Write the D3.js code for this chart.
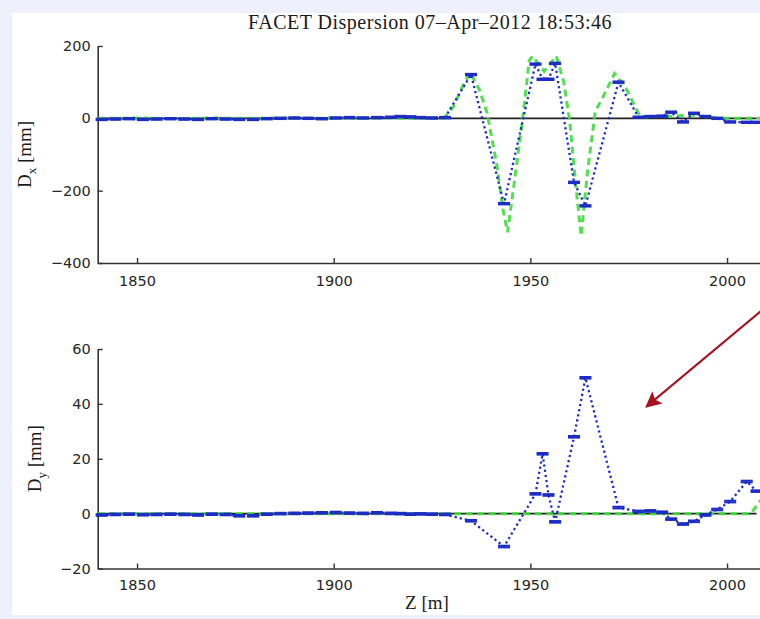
<!DOCTYPE html>
<html>
<head>
<meta charset="utf-8">
<script src="https://cdn.jsdelivr.net/npm/d3@7/dist/d3.min.js"></script>
<style>
  html, body { margin: 0; padding: 0; background: #eef0fb; }
  svg { display: block; }
</style>
</head>
<body>
<svg id="chart" width="760" height="619"></svg>
<script>
// ---- data ---------------------------------------------------------------
const titleText = "FACET Dispersion 07\u2013Apr\u20132012 18:53:46";
const zTicks = [1850, 1900, 1950, 2000];
const dxTicks = [-400, -200, 0, 200];
const dyTicks = [-20, 0, 20, 40, 60];

// BPM positions [m] and measured dispersion [mm]
const bpmZ = [1841, 1844.5, 1848, 1851.5, 1855, 1858.5, 1862, 1865.5, 1869, 1872.5,
  1876, 1879.5, 1883, 1886.5, 1890, 1893.5, 1897, 1900.5, 1904, 1907.5,
  1911, 1914.5, 1917, 1919.5, 1922, 1925, 1928.3, 1934.9, 1943.3, 1951.3,
  1953.1, 1954.6, 1956.3, 1961.1, 1964.0, 1972.4, 1977.5, 1980.5, 1983.5, 1985.8,
  1988.8, 1991.6, 1994.5, 1997.5, 2000.8, 2005.0, 2007.5, 2011];
const measDx = [-3, -2, -1, -3, -2, -1, -2, -3, -1, -2,
  -3, -3, -1, 0, 1, 0, -1, 1, 2, 1,
  2, 3, 5, 4, 2, 1, 2, 121, -236, 150,
  108, 108, 152, -177, -242, 100, 3, 5, 6, 17,
  -10, 14, 5, 0, -10, -11, -11, -11];
const measDy = [-0.5, -0.3, -0.2, -0.4, -0.3, -0.2, -0.3, -0.5, -0.2, -0.3,
  -0.8, -0.8, -0.2, 0, 0.1, 0.2, 0.3, 0.4, 0.2, 0.1,
  0.3, 0.1, 0, -0.2, -0.1, -0.2, -0.3, -2.6, -12, 7.2,
  21.8, 6.8, -3, 28, 49.5, 2.2, 0.8, 1, 0.5, -2,
  -3.8, -2.8, -0.5, 1.5, 4.4, 11.7, 8.2, 8];
const errDx = 2;    // BPM error bar half-height [mm]
const errDy = 0.3;

// model dispersion [mm]
const modelZ = [1840, 1845, 1850, 1855, 1860, 1865, 1870, 1875, 1880, 1885,
  1890, 1895, 1900, 1905, 1910, 1915, 1920, 1925, 1928, 1930.5,
  1933, 1934.7, 1937, 1939, 1941.5, 1943, 1944.2, 1946, 1948, 1949.7,
  1950.6, 1953.5, 1956.6, 1958.5, 1960, 1961.5, 1962.9, 1964.5, 1966.5, 1968.5,
  1971.4, 1974, 1976.5, 1978, 1982, 1986, 1990, 1994, 1998, 2002,
  2006, 2008.5, 2012];
const modelDx = [0, 0, 1, 0, -1, 0, 1, 0, 0, 1,
  0, 0, 1, 0, 1, 1, 0, 0, 0, 33,
  94, 127, 80, 15, -130, -250, -315, -170, -5, 160,
  172, 130, 172, 100, -8, -180, -325, -150, 19, 60,
  124, 90, 35, 3, 5, 5, 10, 5, 0, 0,
  0, 0, 0];
const modelDy = [0, 0, 0, 0, 0, 0, 0, 0, 0, 0,
  0, 0, 0, 0, 0, 0, 0, 0, 0, 0,
  0, 0, 0, 0, 0, 0, 0, 0, 0, 0,
  0, 0, 0, 0, 0, 0, 0, 0, 0, 0,
  0, 0, 0, 0, 0, 0, 0, 0, 0, 0,
  0, 4.7, 8];
const zeroLineZ = [1840, 2007.5];

// annotation arrow in Dy-panel data coordinates: [tail, head]
const arrowPts = [[2009.6, 75], [1979.5, 39]];

// ---- drawing ------------------------------------------------------------
const svg = d3.select("#chart");
svg.append("rect").attr("x", 12).attr("y", 13).attr("width", 748).attr("height", 602)
  .attr("fill", "#ffffff");

const x = d3.scaleLinear().domain([1840, 2020]).range([97.7, 805.7]);

const axisColor = "#333333";
const blue = "#1c2cc4";
const green = "#3fdc3f";
const serif = "'Liberation Serif', 'Times New Roman', serif";

function panel(cfg) {
  const y = d3.scaleLinear().domain(cfg.domain).range(cfg.range);
  const g = svg.append("g");

  // axes (left + bottom, ticks pointing inward)
  const ax = g.append("g").attr("transform", `translate(0,${cfg.range[0]})`)
    .call(d3.axisBottom(x).tickValues(zTicks).tickFormat(d3.format("d"))
      .tickSizeInner(-5).tickSizeOuter(0).tickPadding(cfg.xPad));
  const ay = g.append("g").attr("transform", `translate(${x.range()[0]},0)`)
    .call(d3.axisLeft(y).tickValues(cfg.ticks).tickFormat(d => d < 0 ? "\u2212" + Math.abs(d) : d)
      .tickSizeInner(-5).tickSizeOuter(0).tickPadding(7));
  [ax, ay].forEach(a => {
    a.selectAll("path.domain").attr("stroke", axisColor).attr("stroke-width", 1.6);
    a.selectAll(".tick line").attr("stroke", axisColor).attr("stroke-width", 1.4);
    a.selectAll("text").attr("fill", "#262626")
      .style("font-family", "'DejaVu Sans', sans-serif").style("font-size", "14.5px");
  });

  // zero line
  g.append("path")
    .attr("d", d3.line().x(d => x(d)).y(() => y(0))(zeroLineZ))
    .attr("stroke", "#222").attr("stroke-width", 1.6).attr("fill", "none");

  // model (green dashed)
  const model = modelZ.map((z, i) => [z, cfg.model[i]]);
  g.append("path")
    .attr("d", d3.line().x(d => x(d[0])).y(d => y(d[1]))(model))
    .attr("fill", "none").attr("stroke", green).attr("stroke-width", 3)
    .attr("stroke-dasharray", "7 4.5").attr("opacity", 0.9);

  // measurement (blue dotted with error bars)
  const meas = bpmZ.map((z, i) => [z, cfg.meas[i]]);
  g.append("path")
    .attr("d", d3.line().x(d => x(d[0])).y(d => y(d[1]))(meas))
    .attr("fill", "none").attr("stroke", blue).attr("stroke-width", 2.3)
    .attr("stroke-dasharray", "2.2 3");
  const eb = g.append("g").attr("stroke", blue).attr("fill", "none");
  meas.forEach(d => {
    const cx = x(d[0]);
    const yl = y(d[1] - cfg.err), yh = y(d[1] + cfg.err);
    eb.append("line").attr("x1", cx).attr("x2", cx).attr("y1", yl - 2).attr("y2", yh + 2)
      .attr("stroke-width", 1.5);
    [yl, yh].forEach(yy => eb.append("line")
      .attr("x1", cx - 6).attr("x2", cx + 6).attr("y1", yy).attr("y2", yy)
      .attr("stroke-width", 2));
  });

  // y label with subscript
  const lab = svg.append("text")
    .attr("transform", `translate(${cfg.labelX},${(cfg.range[0] + cfg.range[1]) / 2}) rotate(-90)`)
    .attr("text-anchor", "middle")
    .style("font-family", serif)
    .style("font-size", "19px").attr("fill", "#1a1a1a");
  lab.append("tspan").text("D");
  lab.append("tspan").attr("dy", 5).style("font-size", "13px").text(cfg.sub);
  lab.append("tspan").attr("dy", -5).text(" [mm]");
  return y;
}

panel({domain: [-400, 200], range: [263, 46], ticks: dxTicks, meas: measDx,
  model: modelDx, err: errDx, sub: "x", labelX: 31, xPad: 13});
const yDy = panel({domain: [-20, 60], range: [568.5, 349], ticks: dyTicks, meas: measDy,
  model: modelDy, err: errDy, sub: "y", labelX: 41, xPad: 11});

// title and x label
svg.append("text").attr("x", 430).attr("y", 29).attr("text-anchor", "middle")
  .style("font-family", serif).style("letter-spacing", "0.5px")
  .style("font-size", "20px").attr("fill", "#1a1a1a").text(titleText);
svg.append("text").attr("x", 427).attr("y", 609).attr("text-anchor", "middle")
  .style("font-family", serif)
  .style("font-size", "19px").attr("fill", "#1a1a1a").text("Z [m]");

// annotation arrow
const defs = svg.append("defs");
defs.append("marker").attr("id", "head").attr("viewBox", "0 0 10 10")
  .attr("refX", 9).attr("refY", 5).attr("markerWidth", 19).attr("markerHeight", 16)
  .attr("markerUnits", "userSpaceOnUse").attr("orient", "auto")
  .append("path").attr("d", "M0,0 L10,5 L0,10 L2,5 Z").attr("fill", "#a6101f");
const xa = arrowPts.map(p => [x(p[0]), yDy(p[1])]);
svg.append("line").attr("x1", xa[0][0]).attr("y1", xa[0][1])
  .attr("x2", xa[1][0]).attr("y2", xa[1][1])
  .attr("stroke", "#a6101f").attr("stroke-width", 2).attr("marker-end", "url(#head)");
</script>
</body>
</html>
